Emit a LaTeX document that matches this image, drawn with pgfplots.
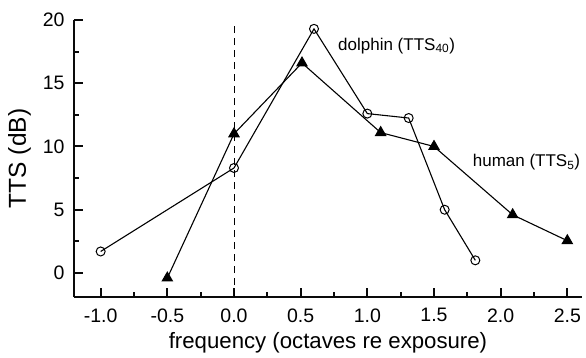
\documentclass[border=0pt]{standalone}
\usepackage{fontspec}
\setmainfont{Liberation Sans}
\usepackage{pgfplots}
\pgfplotsset{compat=1.18}
\definecolor{tk}{RGB}{10,10,10}
\begin{document}
\begin{tikzpicture}
\useasboundingbox (-74pt,-60pt) rectangle (512pt,297pt);
\begin{axis}[
  at={(0,0)}, anchor=south west,
  scale only axis, width=508pt, height=277pt,
  xmin=-1.2, xmax=2.61, ymin=-1.9, ymax=20,
  axis x line*=bottom, axis y line*=left,
  every outer x axis line/.append style={-, line width=2.2pt, tk},
  every outer y axis line/.append style={-, line width=2.2pt, tk},
  tick align=inside,
  major tick length=9pt, minor tick length=5pt,
  every tick/.append style={line width=2pt, tk},
  xtick={-1,-0.5,0,0.5,1,1.5,2,2.5},
  ytick={0,5,10,15,20},
  minor x tick num=1, minor y tick num=1,
  xticklabel style={yshift=-8pt, /pgf/number format/.cd, fixed, fixed zerofill, precision=1},
  /pgf/number format/assume math mode=true,
  tick label style={font=\fontsize{19.5}{22}\selectfont},
  yticklabel style={xshift=-6pt},
  xlabel style={font=\fontsize{22.2}{26}\selectfont, yshift=-3pt},
  ylabel style={font=\fontsize{24.5}{28}\selectfont, yshift=5pt},
  xlabel={frequency (octaves re exposure)},
  ylabel={TTS (dB)},
  clip=false,
]
\addplot[black, line width=1pt, dash pattern=on 7pt off 5pt] coordinates {(0,-1.9) (0,19.5)};
\addplot[black, line width=1.1pt, mark=o, mark size=4.5pt, mark options={solid, fill=white, line width=1pt}]
 coordinates {(-1.0,1.7) (0,8.3) (0.6,19.3) (1.0,12.6) (1.31,12.25) (1.58,5.0) (1.81,1.0)};
\addplot[black, line width=1.1pt, mark=triangle*, mark size=5.8pt, mark options={solid, fill=black}]
 coordinates {(-0.5,-0.4) (0,11) (0.51,16.6) (1.1,11.1) (1.5,10.0) (2.09,4.6) (2.5,2.55)};
\node[anchor=base west, font=\fontsize{17}{20}\selectfont, inner sep=0pt] at (axis cs:0.78,17.6) {dolphin (TTS\textsubscript{40})};
\node[anchor=base west, font=\fontsize{17}{20}\selectfont, inner sep=0pt] at (axis cs:1.79,8.4) {human (TTS\textsubscript{5})};
\end{axis}
\end{tikzpicture}
\end{document}
